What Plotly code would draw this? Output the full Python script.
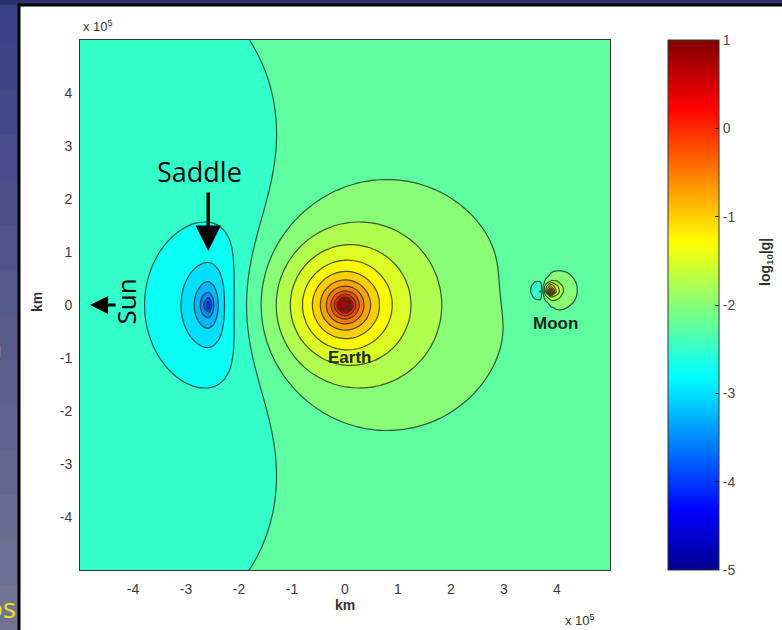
import numpy as np
import plotly.graph_objects as go

# ---------------- data ----------------
# gravitating bodies: position (km, Earth-centred) and GM (m^3 s^-2)
body_names = ["Sun", "Earth", "Moon"]
body_x_km = [-1.496e8, 0.0, 3.89e5]
body_y_km = [0.0, 0.0, 0.28e5]
body_gm = [1.327e20, 3.986e14, 4.905e12]

# sampling grid of the map (km)
grid_min_km = -5e5
grid_max_km = 5e5
grid_n = 100

# contour levels of log10|g|
level_start = -5.0
level_end = 1.0
level_step = 0.25

# axis ticks
axis_tickvals = [-4e5, -3e5, -2e5, -1e5, 0, 1e5, 2e5, 3e5, 4e5]
axis_ticktext = ["-4", "-3", "-2", "-1", "0", "1", "2", "3", "4"]
cbar_tickvals = [-5, -4, -3, -2, -1, 0, 1]
cbar_ticktext = ["-5", "-4", "-3", "-2", "-1", "0", "1"]

# text labels
label_names = ["Earth", "Moon"]
label_x_km = [0.08e5, 3.98e5]
label_y_km = [-0.99e5, -0.35e5]

# ---------------- field ----------------
xs = np.linspace(grid_min_km, grid_max_km, grid_n)
ys = np.linspace(grid_min_km, grid_max_km, grid_n)
X, Y = np.meshgrid(xs, ys)
gx = np.zeros_like(X)
gy = np.zeros_like(X)
for bx, by, gm in zip(body_x_km, body_y_km, body_gm):
    dx = (bx - X) * 1e3
    dy = (by - Y) * 1e3
    r = np.sqrt(dx**2 + dy**2)
    gx += gm * dx / r**3
    gy += gm * dy / r**3
z = np.log10(np.sqrt(gx**2 + gy**2))
z = np.clip(z, level_start, level_end)

# Matlab-style jet
jet_stops = [(0.0, (0, 0, 143)), (0.111, (0, 0, 255)), (0.365, (0, 255, 255)),
             (0.619, (255, 255, 0)), (0.873, (255, 0, 0)), (1.0, (128, 0, 0))]


def jet(t):
    t = min(max(t, 0.0), 1.0)
    for (t0, c0), (t1, c1) in zip(jet_stops[:-1], jet_stops[1:]):
        if t <= t1:
            f = (t - t0) / (t1 - t0)
            c = [round(a + (b - a) * f) for a, b in zip(c0, c1)]
            return "rgb(%d,%d,%d)" % tuple(c)
    return "rgb(128,0,0)"


nb = int(round((level_end - level_start) / level_step))
stepped = []
for k in range(nb):
    lev = level_start + k * level_step
    col = jet((lev - level_start) / (level_end - level_start))
    stepped.append([k / nb, col])
    stepped.append([(k + 1) / nb, col])

jet_cont = [[t, "rgb(%d,%d,%d)" % c] for t, c in jet_stops]

fig = go.Figure()
fig.add_trace(go.Contour(
    x=xs, y=ys, z=z,
    autocontour=False,
    contours=dict(start=level_start, end=level_end, size=level_step, coloring="fill"),
    zmin=level_start, zmax=level_end,
    colorscale=stepped, showscale=False,
    line=dict(color="rgba(25,45,35,0.8)", width=1.2, smoothing=0.6),
    hoverinfo="skip",
))
# continuous colour bar
fig.add_trace(go.Scatter(
    x=[0, 0], y=[0, 0], mode="markers",
    marker=dict(color=[level_start, level_end], cmin=level_start, cmax=level_end,
                colorscale=jet_cont, size=1, opacity=0, showscale=True,
                colorbar=dict(x=(668 - 80) / 530, xanchor="left", xpad=0,
                              y=0.5, yanchor="middle", ypad=0, len=1,
                              thickness=51, thicknessmode="pixels",
                              outlinecolor="#333", outlinewidth=1,
                              tickvals=cbar_tickvals, ticktext=cbar_ticktext,
                              ticks="inside", ticklen=4, tickcolor="#222",
                              tickfont=dict(family="Liberation Sans", size=14, color="#4a4a4a"))),
    hoverinfo="skip", showlegend=False,
))


def px(x):
    return (x - 80) / 530


def py(y):
    return (570 - y) / 530


shapes = []
# slide background gradient in the visible strips
bands = 14
c_top = np.array([58, 66, 134])
c_bot = np.array([112, 116, 146])
for i in range(bands):
    f = i / (bands - 1)
    c = c_top + (c_bot - c_top) * f
    y0 = i * 630 / bands
    y1 = (i + 1) * 630 / bands
    shapes.append(dict(type="rect", xref="paper", yref="paper", layer="below",
                       x0=px(-5), x1=px(19), y0=py(y1 + 1), y1=py(y0),
                       fillcolor="rgb(%d,%d,%d)" % tuple(c.astype(int)), line=dict(width=0)))
shapes.append(dict(type="rect", xref="paper", yref="paper", layer="below",
                   x0=px(-5), x1=px(800), y0=py(5), y1=py(-5),
                   fillcolor="#2c3268", line=dict(width=0)))
shapes.append(dict(type="rect", xref="paper", yref="paper", layer="below",
                   x0=px(19), x1=px(800), y0=py(650), y1=py(5),
                   fillcolor="white", line=dict(color="black", width=3)))

tick_font = dict(family="Liberation Sans", size=14, color="#3a3a3a")
lab_font = dict(family="Liberation Sans", size=14, color="#333")
ann = []
ann.append(dict(xref="paper", yref="paper", x=px(81), y=py(26), xanchor="left", yanchor="middle",
                text="x 10<sup>5</sup>", showarrow=False, font=dict(family="Liberation Sans", size=13, color="#333")))
ann.append(dict(xref="paper", yref="paper", x=px(563), y=py(620), xanchor="left", yanchor="middle",
                text="x 10<sup>5</sup>", showarrow=False, font=dict(family="Liberation Sans", size=13, color="#333")))
ann.append(dict(xref="paper", yref="paper", x=px(345), y=py(605), xanchor="center", yanchor="middle",
                text="<b>km</b>", showarrow=False, font=lab_font))
ann.append(dict(xref="paper", yref="paper", x=px(37), y=py(302), xanchor="center", yanchor="middle",
                text="<b>km</b>", showarrow=False, textangle=-90, font=lab_font))
ann.append(dict(xref="paper", yref="paper", x=px(766), y=py(262), xanchor="center", yanchor="middle",
                text="<b>log<sub>10</sub>|g|</b>", showarrow=False, textangle=-90, font=lab_font))
for name, lx, ly in zip(label_names, label_x_km, label_y_km):
    ann.append(dict(x=lx, y=ly, text="<b>%s</b>" % name, showarrow=False,
                    font=dict(family="Liberation Sans", size=17, color="#1e2a1e")))
# Saddle
ann.append(dict(x=-2.74e5, y=2.52e5, text="Saddle", showarrow=False,
                font=dict(family="Open Sans", size=27, color="black")))
ann.append(dict(x=-2.58e5, y=1.02e5, text="", showarrow=True, ax=0, ay=-60,
                arrowhead=2, arrowwidth=3.5, arrowsize=1.45, arrowcolor="black", standoff=0))
# Sun
ann.append(dict(x=-4.13e5, y=0.07e5, text="Sun", showarrow=False, textangle=-90,
                font=dict(family="Open Sans", size=26, color="black")))
ann.append(dict(x=-4.81e5, y=0.0, text="", showarrow=True, ax=27, ay=0,
                arrowhead=2, arrowwidth=3, arrowsize=1.2, arrowcolor="black", standoff=0))
# cut-off slide text
ann.append(dict(xref="paper", yref="paper", x=px(18), y=py(607), xanchor="right", yanchor="middle",
                text="os", showarrow=False, font=dict(family="Open Sans", size=28, color="#f0e020")))
ann.append(dict(xref="paper", yref="paper", x=px(4), y=py(346), xanchor="right", yanchor="middle",
                text="n", showarrow=False, font=dict(family="Open Sans", size=28, color="#f0e020")))

fig.update_layout(
    width=782, height=630, autosize=False,
    margin=dict(l=80, r=172, t=40, b=60, pad=0),
    paper_bgcolor="#3d4585", plot_bgcolor="white",
    shapes=shapes, annotations=ann, showlegend=False,
    xaxis=dict(range=[grid_min_km, grid_max_km], tickvals=axis_tickvals, ticktext=axis_ticktext,
               showgrid=False, zeroline=False, showline=True, mirror=True, linecolor="#333",
               linewidth=1, ticks="", tickfont=tick_font, ticklabelstandoff=6),
    yaxis=dict(range=[grid_min_km, grid_max_km], tickvals=axis_tickvals, ticktext=axis_ticktext,
               showgrid=False, zeroline=False, showline=True, mirror=True, linecolor="#333",
               linewidth=1, ticks="", tickfont=tick_font, ticklabelstandoff=4),
)

fig.write_html("out.html")
